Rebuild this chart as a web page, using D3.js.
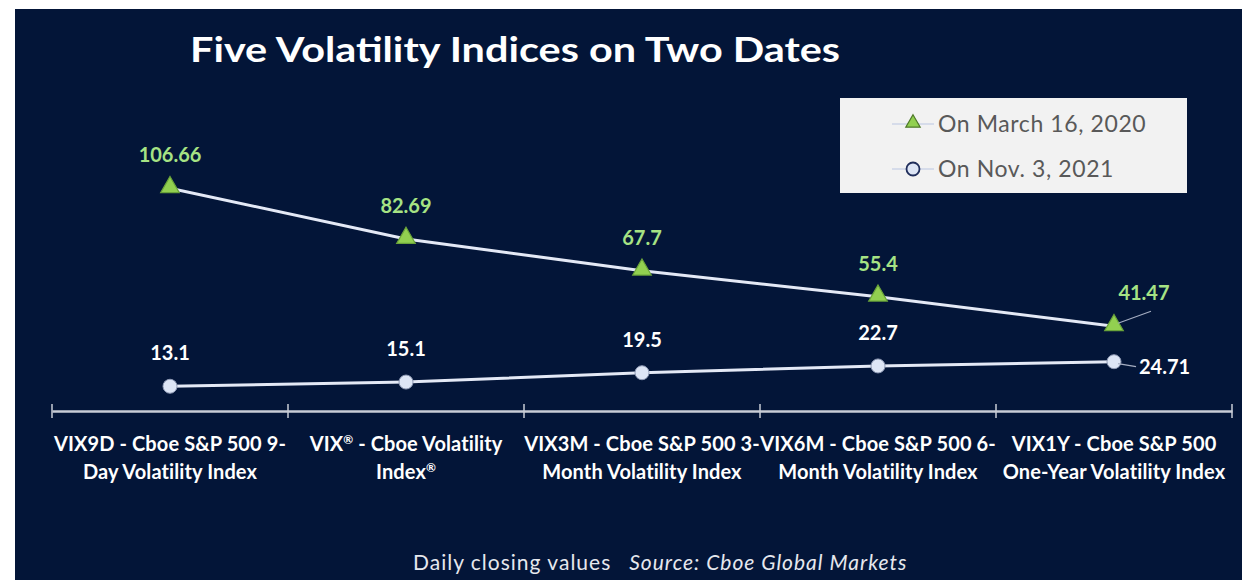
<!DOCTYPE html>
<html>
<head>
<meta charset="utf-8">
<script src="https://cdn.jsdelivr.net/npm/d3@7"></script>
<style>
    body { margin: 0; background: #ffffff; }
    svg { display: block; }
</style>
</head>
<body>
<svg name="volChart" width="1242" height="580"></svg>
<script>
var categories = [
    ["VIX9D - Cboe S&P 500 9-", "Day Volatility Index"],
    ["VIX\u00AE - Cboe Volatility", "Index\u00AE"],
    ["VIX3M - Cboe S&P 500 3-", "Month Volatility Index"],
    ["VIX6M - Cboe S&P 500 6-", "Month Volatility Index"],
    ["VIX1Y - Cboe S&P 500", "One-Year Volatility Index"]
];
var march2020 = [106.66, 82.69, 67.7, 55.4, 41.47];
var nov2021 = [13.1, 15.1, 19.5, 22.7, 24.71];
var seriesNames = ["On March 16, 2020", "On Nov. 3, 2021"];

var FONT = "Lato, 'Open Sans', sans-serif";
var svg = d3.select("svg[name='volChart']");

// dark panel
svg.append("rect")
    .attr("x", 15).attr("y", 9)
    .attr("width", 1227).attr("height", 571)
    .attr("fill", "#031538");

var x = d3.scaleBand().domain(d3.range(categories.length)).range([52, 1232]),
    y = d3.scaleLinear().domain([0, 120]).range([414, 160]);

function cx(i) { return x(i) + x.bandwidth() / 2; }

// title
svg.append("text")
    .attr("x", 190).attr("y", 62)
    .attr("fill", "#ffffff")
    .attr("font-family", FONT)
    .attr("font-weight", "bold")
    .attr("font-size", 34)
    .attr("textLength", 650)
    .attr("lengthAdjust", "spacingAndGlyphs")
    .text("Five Volatility Indices on Two Dates");

// x axis
var axis = svg.append("g")
    .attr("transform", "translate(0,411)")
    .call(d3.axisBottom(x).tickSize(0).tickFormat(""));
axis.select(".domain").attr("stroke", "#c8ccd6").attr("stroke-width", 2.5);
var edges = x.domain().map(function (d) { return x(d); }).concat([x.range()[1]]);
axis.selectAll(".edge")
    .data(edges)
    .enter().append("line")
    .attr("x1", function (d) { return d; })
    .attr("x2", function (d) { return d; })
    .attr("y1", -7).attr("y2", 7)
    .attr("stroke", "#c8ccd6").attr("stroke-width", 1.5);

// category labels, with the (R) mark set as superscript
function addLine(sel, str, yy, xx) {
    var t = sel.append("tspan").attr("x", xx).attr("y", yy);
    var parts = str.split("\u00AE");
    parts.forEach(function (p, k) {
        var s = t.append("tspan").text(p);
        if (k > 0) s.attr("dy", 7);
        if (k < parts.length - 1) {
            t.append("tspan")
                .attr("font-size", 12)
                .attr("dy", -7)
                .text("\u00AE");
        }
    });
}

svg.append("g").selectAll("text")
    .data(categories)
    .enter().append("text")
    .attr("text-anchor", "middle")
    .attr("fill", "#ffffff")
    .attr("font-family", FONT)
    .attr("font-weight", "bold")
    .attr("font-size", 20)
    .attr("letter-spacing", 0.1)
    .each(function (d, i) {
        var t = d3.select(this);
        addLine(t, d[0], 451, cx(i));
        addLine(t, d[1], 479, cx(i));
    });

// lines
var line = d3.line()
    .x(function (d, i) { return cx(i); })
    .y(function (d) { return y(d); });

[march2020, nov2021].forEach(function (s) {
    svg.append("path")
        .datum(s)
        .attr("d", line)
        .attr("fill", "none")
        .attr("stroke", "#e4e9f6")
        .attr("stroke-width", 3);
});

// markers
var tri = d3.symbol().type(d3.symbolTriangle).size(150);
svg.selectAll(".tri")
    .data(march2020)
    .enter().append("path")
    .attr("class", "tri")
    .attr("d", tri)
    .attr("transform", function (d, i) { return "translate(" + cx(i) + "," + (y(d) - 1) + ")"; })
    .attr("fill", "#92d050")
    .attr("stroke", "#6aa33a")
    .attr("stroke-width", 1.2);

svg.selectAll(".dot")
    .data(nov2021)
    .enter().append("circle")
    .attr("class", "dot")
    .attr("cx", function (d, i) { return cx(i); })
    .attr("cy", function (d) { return y(d); })
    .attr("r", 7)
    .attr("fill", "#dde5f5")
    .attr("stroke", "#8f9ab5")
    .attr("stroke-width", 1);

// leader lines for last points
var last = march2020.length - 1;
svg.append("line")
    .attr("x1", cx(last) + 4).attr("y1", y(march2020[last]) - 3)
    .attr("x2", cx(last) + 37).attr("y2", y(march2020[last]) - 15)
    .attr("stroke", "#a6aec2").attr("stroke-width", 1.2);
svg.append("line")
    .attr("x1", cx(last) + 4).attr("y1", y(nov2021[last]) + 2)
    .attr("x2", cx(last) + 22).attr("y2", y(nov2021[last]) + 5)
    .attr("stroke", "#a6aec2").attr("stroke-width", 1.2);

// data labels
svg.selectAll(".lblA")
    .data(march2020)
    .enter().append("text")
    .attr("class", "lblA")
    .attr("x", function (d, i) { return i == last ? cx(i) + 30 : cx(i); })
    .attr("y", function (d) { return y(d) - 26; })
    .attr("text-anchor", "middle")
    .attr("fill", "#a6e384")
    .attr("font-family", FONT)
    .attr("font-weight", "bold")
    .attr("font-size", 20)
    .text(function (d) { return d; });

svg.selectAll(".lblB")
    .data(nov2021)
    .enter().append("text")
    .attr("class", "lblB")
    .attr("x", function (d, i) { return i == last ? cx(i) + 25 : cx(i); })
    .attr("y", function (d, i) { return i == last ? y(d) + 12 : y(d) - 26; })
    .attr("text-anchor", function (d, i) { return i == last ? "start" : "middle"; })
    .attr("fill", "#ffffff")
    .attr("font-family", FONT)
    .attr("font-weight", "bold")
    .attr("font-size", 20)
    .text(function (d) { return d; });

// legend
var lg = svg.append("g").attr("transform", "translate(840,98)");
lg.append("rect")
    .attr("width", 347).attr("height", 95)
    .attr("fill", "#f2f2f2");
lg.selectAll(".lgline")
    .data(seriesNames)
    .enter().append("line")
    .attr("x1", 52).attr("x2", 94)
    .attr("y1", function (d, i) { return 26 + i * 45; })
    .attr("y2", function (d, i) { return 26 + i * 45; })
    .attr("stroke", "#d6dcea").attr("stroke-width", 2);
lg.append("path")
    .attr("d", d3.symbol().type(d3.symbolTriangle).size(90))
    .attr("transform", "translate(73,25)")
    .attr("fill", "#92d050").attr("stroke", "#4f7a2a").attr("stroke-width", 1.2);
lg.append("circle")
    .attr("cx", 73).attr("cy", 71).attr("r", 6.5)
    .attr("fill", "#dde5f5").attr("stroke", "#1f2d5a").attr("stroke-width", 1.8);
lg.selectAll(".lgtext")
    .data(seriesNames)
    .enter().append("text")
    .attr("x", 98)
    .attr("y", function (d, i) { return 34 + i * 45; })
    .attr("fill", "#595959")
    .attr("font-family", FONT)
    .attr("font-size", 23)
    .attr("letter-spacing", 0.6)
    .text(function (d) { return d; });

// footnote
var foot = svg.append("text")
    .attr("x", 413).attr("y", 570)
    .attr("fill", "#e6e8ee")
    .attr("font-family", FONT)
    .attr("font-size", 21)
    .attr("letter-spacing", 1.0);
foot.append("tspan").text("Daily closing values");
foot.append("tspan").attr("dx", 18).attr("font-style", "italic").text("Source: Cboe Global Markets");
</script>
</body>
</html>
